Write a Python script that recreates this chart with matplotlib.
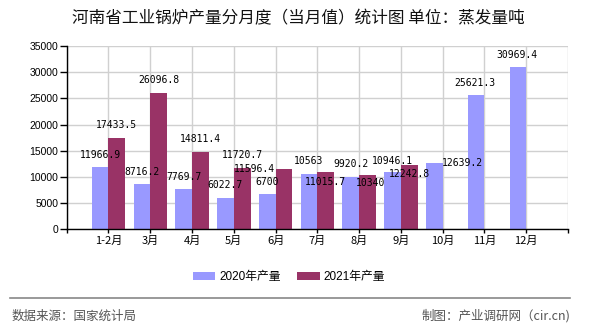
import matplotlib
matplotlib.use("Agg")
import matplotlib.pyplot as plt
import numpy as np

plt.rcParams['font.family'] = ['Noto Sans CJK SC', 'DejaVu Sans']

months = ["1-2月", "3月", "4月", "5月", "6月", "7月", "8月", "9月", "10月", "11月", "12月"]
prod_2020 = [11966.9, 8716.2, 7769.7, 6022.7, 6700, 10563, 9920.2, 10946.1, 12639.2, 25621.3, 30969.4]
prod_2021 = [17433.5, 26096.8, 14811.4, 11720.7, 11596.4, 11015.7, 10340, 12242.8]
series_names = ["2020年产量", "2021年产量"]
yticks = [0, 5000, 10000, 15000, 20000, 25000, 30000, 35000]
title = "河南省工业锅炉产量分月度（当月值）统计图 单位：蒸发量吨"
source_left = "数据来源：国家统计局"
source_right = "制图：产业调研网（cir.cn)"

# label offsets (pixels) mimicking reference label placement
off_2020 = [(0, 12), (0, 12), (0, 12), (0, 12.5), (0, 12), (0, 12.5), (0, 13), (0, 11), (28, 0), (-1, 12), (-1, 12)]
off_2021 = [(0, 13), (0, 12.5), (0, 13), (0, 12.5), (-30, 0), (0, -10), (3.5, -8), (0, -9)]

c2020 = "#9999FF"
c2021 = "#993366"

fig = plt.figure(figsize=(5.9, 3.3), dpi=100)
ax = fig.add_axes([66.7 / 590, 1 - 229.3 / 330, (568 - 66.7) / 590, (229.3 - 46) / 330])

x20 = np.arange(len(prod_2020))
x21 = np.arange(len(prod_2021))
w = 0.4
b1 = ax.bar(x20 - w / 2, prod_2020, width=w, color=c2020, label=series_names[0], zorder=2)
b2 = ax.bar(x21 + w / 2, prod_2021, width=w, color=c2021, label=series_names[1], zorder=2)

def fmt(v):
    s = f"{v:.1f}"
    if s.endswith(".0"):
        s = s[:-2]
    return s

for xs, vals, offs in [(x20 - w / 2, prod_2020, off_2020), (x21 + w / 2, prod_2021, off_2021)]:
    for xi, v, (dx, dy) in zip(xs, vals, offs):
        ax.annotate(fmt(v), (xi, v), xytext=(dx, dy), textcoords='offset pixels',
                    ha='center', va='center', fontsize=7, family='DejaVu Sans Mono',
                    color='black', zorder=3)

ax.set_xlim(-1, len(months))
ax.set_ylim(0, 35000)
ax.set_yticks(yticks)
ax.set_yticklabels([str(t) for t in yticks], family='Liberation Sans', fontsize=7.5)
ax.set_xticks(np.arange(-1, len(months) + 1))
ax.set_xticklabels([""] + months + [""], fontsize=8)
ax.tick_params(axis='y', length=5, width=1, pad=1, direction='out')
ax.tick_params(axis='x', length=3, width=1, pad=2, direction='out')
ax.grid(True, color="#D0D0D0", linewidth=1, zorder=0)
ax.set_axisbelow(True)
for s in ['top', 'right']:
    ax.spines[s].set_visible(False)
for s in ['left', 'bottom']:
    ax.spines[s].set_color('black')
    ax.spines[s].set_linewidth(1)

fig.text(0.505, 1 - 19 / 330, title, ha='center', va='center', fontsize=12, color='#111111')

leg = fig.legend(handles=[b1, b2], loc='center', bbox_to_anchor=(0.49, 1 - 277 / 330),
                 ncol=2, frameon=False, prop={'family': ['Liberation Sans', 'Noto Sans CJK SC'], 'size': 8.5},
                 handlelength=1.9, handleheight=0.75, handletextpad=0.35, columnspacing=1.4,
                 borderaxespad=0, borderpad=0)

fig.add_artist(plt.Line2D([10 / 590, 570 / 590], [1 - 298 / 330, 1 - 298 / 330], color='#888888', linewidth=1.2))
fig.text(12 / 590, 1 - 316 / 330, source_left, ha='left', va='center', fontsize=9, color='#555555')
fig.text(570 / 590, 1 - 316 / 330, source_right, ha='right', va='center', fontsize=9, color='#555555')

fig.savefig("out.png", dpi=100)
